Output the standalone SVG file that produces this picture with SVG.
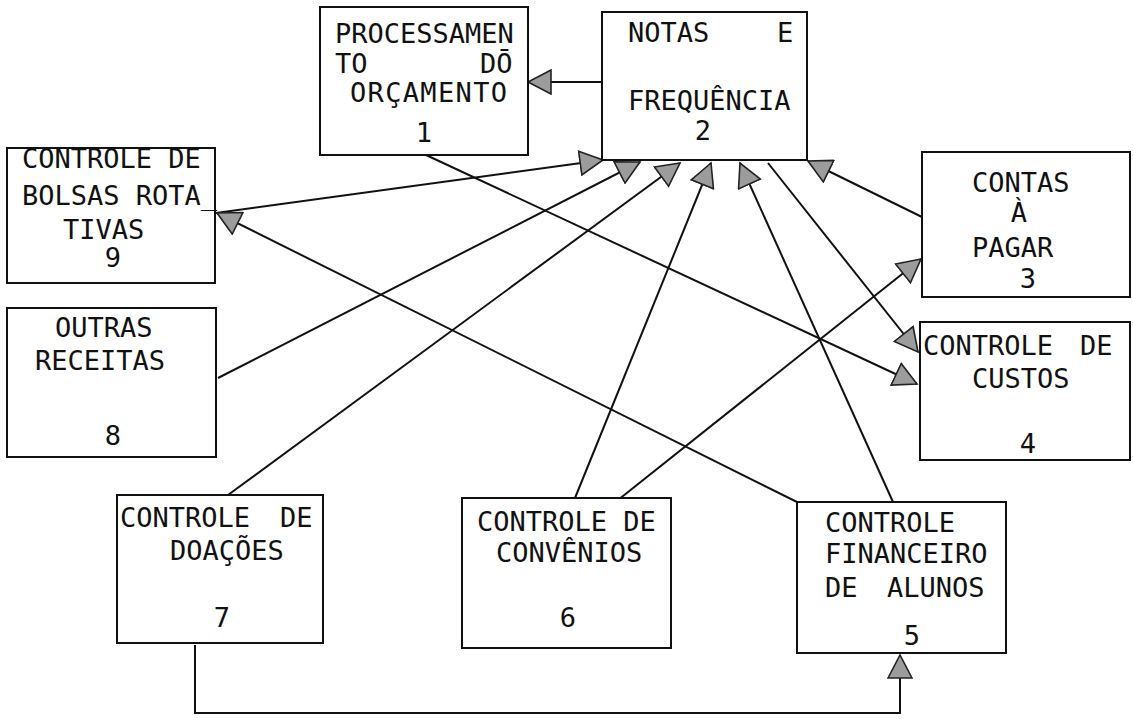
<svg xmlns="http://www.w3.org/2000/svg" width="1133" height="719" viewBox="0 0 1133 719">
  <style>
    .box { fill: #fff; stroke: #111; stroke-width: 2; }
    .t { font-family: "DejaVu Sans Mono", "Liberation Mono", monospace; font-size: 27px; fill: #111; }
    .m { text-anchor: middle; }
    .edge { fill: none; stroke: #111; stroke-width: 2; marker-end: url(#arr); }
  </style>
  <defs>
    <marker id="arr" markerUnits="userSpaceOnUse" viewBox="0 0 26 26" markerWidth="26" markerHeight="26" refX="24" refY="13" orient="auto">
      <path d="M1,1 L24,13 L1,25 z" fill="#9c9c9c" stroke="#222" stroke-width="1.6"/>
    </marker>
  </defs>
  <rect width="1133" height="719" fill="#fff"/>

  <!-- connectors -->
  <g id="connectors">
    <line class="edge" x1="602" y1="82" x2="528" y2="82"/>
    <line class="edge" x1="216" y1="213" x2="603" y2="160"/>
    <line class="edge" x1="218" y1="378" x2="640" y2="162"/>
    <line class="edge" x1="228" y1="495" x2="680" y2="163"/>
    <line class="edge" x1="575" y1="498" x2="711" y2="163"/>
    <line class="edge" x1="893" y1="502" x2="740" y2="163"/>
    <line class="edge" x1="768" y1="163" x2="918" y2="352"/>
    <line class="edge" x1="922" y1="217" x2="808" y2="161"/>
    <line class="edge" x1="618" y1="500" x2="921" y2="259"/>
    <line class="edge" x1="426" y1="155" x2="917" y2="384"/>
    <line class="edge" x1="797" y1="502" x2="217" y2="213"/>
    <path class="edge" d="M195,645 V713 H900 V655"/>
  </g>

  <g id="node1">
    <rect class="box" x="320" y="7" width="208" height="148"/>
    <text class="t">
      <tspan x="335" y="43">PROCESSAMEN</tspan>
      <tspan x="335" y="73">TO</tspan><tspan x="480" y="73">DŌ</tspan>
      <tspan x="350" y="102" textLength="157" lengthAdjust="spacing">ORÇAMENTO</tspan>
      <tspan class="m" x="424" y="142">1</tspan>
    </text>
  </g>

  <g id="node2">
    <rect class="box" x="602" y="12" width="205" height="148"/>
    <text class="t">
      <tspan x="628" y="42">NOTAS</tspan><tspan x="777" y="42">E</tspan>
      <tspan x="628" y="110">FREQUÊNCIA</tspan>
      <tspan class="m" x="703" y="140">2</tspan>
    </text>
  </g>

  <g id="node3">
    <rect class="box" x="922" y="152" width="208" height="145"/>
    <text class="t">
      <tspan x="972" y="192">CONTAS</tspan>
      <tspan class="m" x="1027" y="222">À</tspan>
      <tspan x="972" y="257">PAGAR</tspan>
      <tspan class="m" x="1028" y="288">3</tspan>
    </text>
  </g>

  <g id="node4">
    <rect class="box" x="920" y="322" width="210" height="138"/>
    <text class="t">
      <tspan x="923" y="355">CONTROLE</tspan><tspan x="1080" y="355">DE</tspan>
      <tspan x="972" y="388">CUSTOS</tspan>
      <tspan class="m" x="1028" y="453">4</tspan>
    </text>
  </g>

  <g id="node5">
    <rect class="box" x="797" y="502" width="209" height="151"/>
    <text class="t">
      <tspan x="825" y="532">CONTROLE</tspan>
      <tspan x="825" y="563">FINANCEIRO</tspan>
      <tspan x="825" y="597">DE</tspan><tspan x="887" y="597">ALUNOS</tspan>
      <tspan class="m" x="912" y="645">5</tspan>
    </text>
  </g>

  <g id="node6">
    <rect class="box" x="462" y="498" width="209" height="150"/>
    <text class="t">
      <tspan x="477" y="531">CONTROLE DE</tspan>
      <tspan x="496" y="562">CONVÊNIOS</tspan>
      <tspan class="m" x="568" y="627">6</tspan>
    </text>
  </g>

  <g id="node7">
    <rect class="box" x="117" y="495" width="206" height="148"/>
    <text class="t">
      <tspan x="120" y="527">CONTROLE</tspan><tspan x="280" y="527">DE</tspan>
      <tspan x="170" y="560">DOAÇÕES</tspan>
      <tspan class="m" x="222" y="627">7</tspan>
    </text>
  </g>

  <g id="node8">
    <rect class="box" x="7" y="308" width="209" height="149"/>
    <text class="t">
      <tspan x="55" y="337">OUTRAS</tspan>
      <tspan x="35" y="370">RECEITAS</tspan>
      <tspan class="m" x="113" y="445">8</tspan>
    </text>
  </g>

  <g id="node9">
    <rect class="box" x="7" y="148" width="208" height="135"/>
    <text class="t">
      <tspan x="22" y="168">CONTROLE DE</tspan>
      <tspan x="22" y="205">BOLSAS ROTA̲</tspan>
      <tspan x="63" y="239">TIVAS</tspan>
      <tspan class="m" x="113" y="267">9</tspan>
    </text>
  </g>
</svg>
